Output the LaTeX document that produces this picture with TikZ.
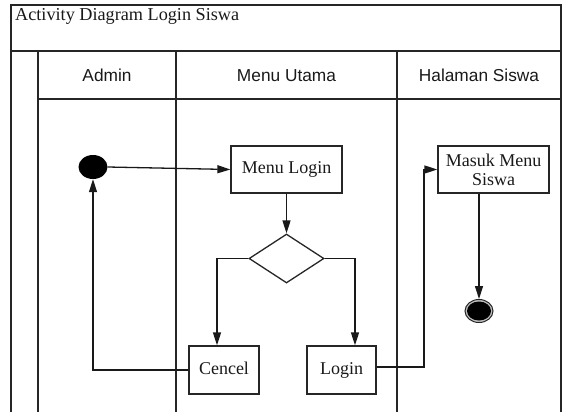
\documentclass[tikz,border=0pt]{standalone}
\usepackage{fontspec}
\setmainfont{Liberation Serif}
\newfontfamily\lanefont{Liberation Sans}
\usetikzlibrary{arrows.meta,shapes.geometric}
\begin{document}
\begin{tikzpicture}[x=1pt,y=-1pt,
  frame/.style={line width=1.3pt, draw=black!85},
  box/.style={draw=black!85, line width=1.3pt, fill=white, inner sep=2pt, align=center,
    font=\fontsize{18}{19}\selectfont, text=black!90},
  onebox/.style={box, text height=12.5pt, text depth=4pt},
  lanetitle/.style={font=\lanefont\fontsize{17.3}{19}\selectfont, anchor=base, text=black!90},
  flow/.style={line width=1.3pt, draw=black!90, -{Triangle[length=13pt,width=8pt]}}]
\useasboundingbox (0,0) rectangle (564,412);
% frame and swimlanes
\draw[frame] (11,412) -- (11,5) -- (561,5) -- (561,412);
\draw[frame] (11,51) -- (561,51);
\draw[frame] (38,51) -- (38,412);
\draw[frame] (176,51) -- (176,412);
\draw[frame] (397,51) -- (397,412);
\draw[frame] (38,99) -- (561,99);
\node[anchor=base west, font=\fontsize{18.2}{19}\selectfont, text=black!90, inner sep=0] (title) at (15,21) {Activity Diagram Login Siswa};
\node[lanetitle] (hadmin) at (107,81) {Admin};
\node[lanetitle] (hmenu) at (286.5,81) {Menu Utama};
\node[lanetitle] (hsiswa) at (479,81) {Halaman Siswa};
% nodes
\node[ellipse, fill=black, minimum width=29pt, minimum height=24pt, inner sep=0] (start) at (93,167) {};
\node[onebox, minimum width=111pt, minimum height=47pt] (ml) at (286.5,169.5) {Menu Login};
\node[diamond, draw=black!85, line width=1.3pt, minimum width=75pt, minimum height=49pt, inner sep=0] (dec) at (286.5,258.5) {};
\node[onebox, minimum width=70pt, minimum height=48pt] (cancel) at (224,370) {Cencel};
\node[onebox, minimum width=69pt, minimum height=48pt] (login) at (341.5,370) {Login};
\node[box, minimum width=111pt, minimum height=47pt] (masuk) at (493.5,169.5) {Masuk Menu\\Siswa};
\node[ellipse, draw=black!85, line width=1pt, fill=black!25, minimum width=28pt, minimum height=23pt, inner sep=0] (endo) at (479,311) {};
\node[ellipse, fill=black, minimum width=24pt, minimum height=19pt, inner sep=0] (endi) at (479,311) {};
\coordinate (cbr) at (217,0);
\coordinate (lbr) at (355,0);
\coordinate (jx) at (424,0);
% connectors
\draw[flow] (start.east) -- (ml.west);
\draw[flow] (ml.south) -- (dec.north);
\draw[flow] (dec.west) -| (cbr |- cancel.north);
\draw[flow] (dec.east) -| (lbr |- login.north);
\draw[flow] (cancel.west) -| (start.south);
\draw[flow] ([yshift=3pt]login.east) -| (jx |- masuk.west) -- (masuk.west);
\draw[flow] (masuk.south -| endo.north) -- (endo.north);
\end{tikzpicture}
\end{document}
